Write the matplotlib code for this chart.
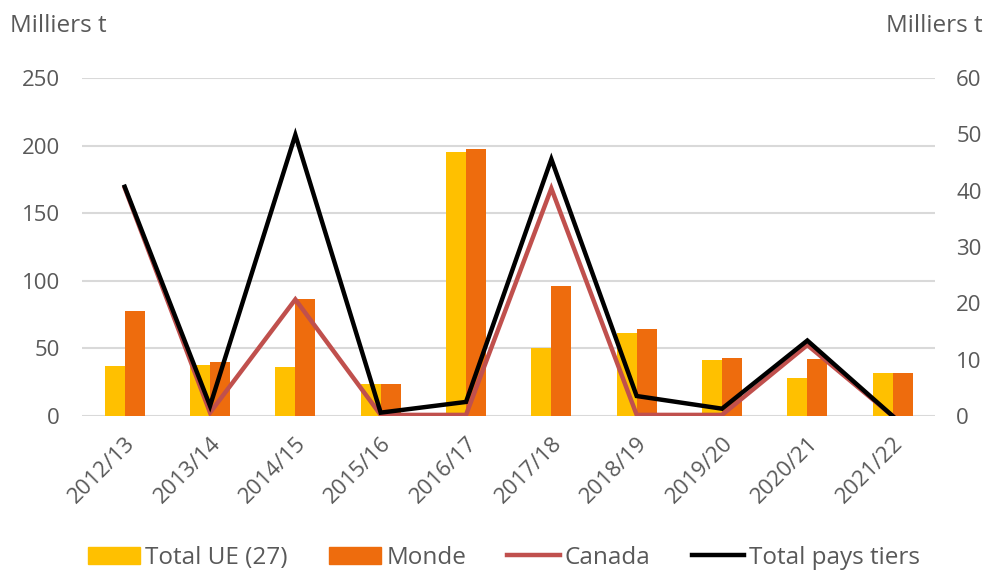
import numpy as np
import matplotlib.pyplot as plt
from matplotlib.patches import Patch
from matplotlib.lines import Line2D

plt.rcParams["font.family"] = ["Open Sans", "DejaVu Sans"]

campagnes = ["2012/13", "2013/14", "2014/15", "2015/16", "2016/17",
             "2017/18", "2018/19", "2019/20", "2020/21", "2021/22"]
total_ue = [37, 37.5, 36.5, 23.7, 195.5, 50, 61.2, 41.2, 28.1, 31.8]
monde = [77.7, 39.7, 86.3, 24, 197.7, 95.9, 64.3, 42.7, 41.9, 31.8]
canada = [40.5, 0.6, 20.7, 0.2, 0.2, 40.4, 0.2, 0.2, 12.6, 0]
pays_tiers = [40.7, 1.8, 49.9, 0.6, 2.5, 45.6, 3.55, 1.3, 13.4, 0]

grey = "#595959"
x = np.arange(len(campagnes))
w = 0.235

fig = plt.figure(figsize=(9.98, 5.72), dpi=100)
ax = fig.add_axes([0.0822, 0.2727, 0.855, 0.5909])
ax2 = ax.twinx()

ax.bar(x - w / 2, total_ue, w, color="#FFC000", zorder=2)
ax.bar(x + w / 2, monde, w, color="#EE6C0D", zorder=2)
ax2.plot(x, canada, color="#C0504D", lw=3.2, solid_joinstyle="miter")
ax2.plot(x, pays_tiers, color="black", lw=3.2, solid_joinstyle="miter")

ax.set_xlim(-0.5, len(campagnes) - 0.5)
ax.set_ylim(0, 250)
ax2.set_ylim(0, 60)
ax.set_yticks(range(0, 251, 50))
ax2.set_yticks(range(0, 61, 10))
ax.yaxis.grid(True, color="#d9d9d9", lw=1.5, zorder=0)
ax.set_axisbelow(True)

for a in (ax, ax2):
    for s in a.spines.values():
        s.set_visible(False)
    a.tick_params(length=0, labelsize=16, colors=grey)
ax.tick_params(axis="y", pad=16)
ax2.tick_params(axis="y", pad=15)

ax.set_xticks(x)
ax.set_xticklabels(campagnes, rotation=45, ha="right", rotation_mode="anchor")
ax.tick_params(axis="x", pad=12)

fig.text(0.01, 0.955, "Milliers t", fontsize=17.5, color=grey, va="center")
fig.text(0.985, 0.955, "Milliers t", fontsize=17.5, color=grey, va="center", ha="right")

handles = [
    Patch(color="#FFC000", label="Total UE (27)"),
    Patch(color="#EE6C0D", label="Monde"),
    Line2D([], [], color="#C0504D", lw=3.2, label="Canada"),
    Line2D([], [], color="black", lw=3.2, label="Total pays tiers"),
]
leg = fig.legend(handles=handles, loc="center", bbox_to_anchor=(0.505, 0.025), ncol=4,
                 frameon=False, fontsize=17.5, handlelength=2.15, handletextpad=0.2,
                 columnspacing=1.7, labelcolor=grey)

fig.savefig("out.png", dpi=100)
